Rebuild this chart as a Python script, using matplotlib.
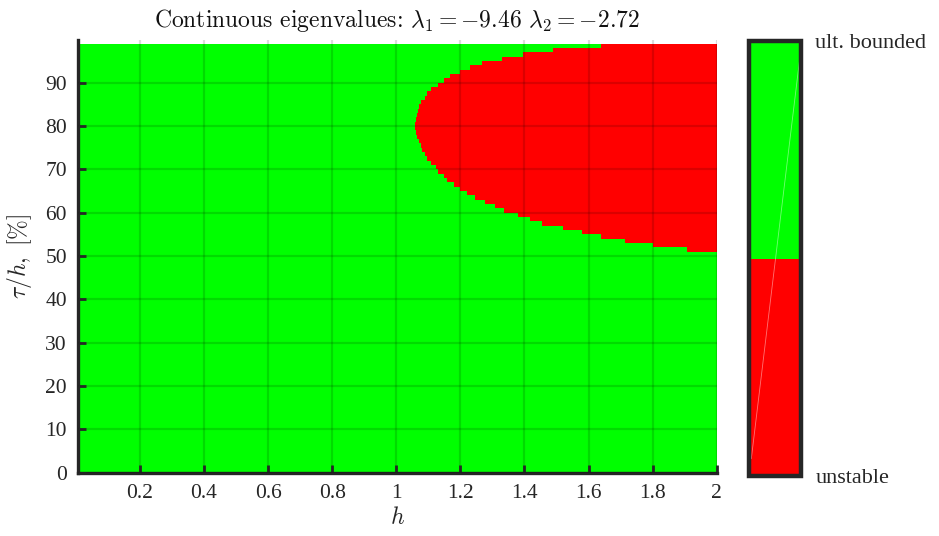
import numpy as np
import matplotlib
matplotlib.use("Agg")
import matplotlib.pyplot as plt
from matplotlib.colors import ListedColormap

plt.rcParams['mathtext.fontset'] = 'cm'
plt.rcParams['font.family'] = ['Liberation Serif', 'DejaVu Serif']
plt.rcParams['axes.unicode_minus'] = False

# ---- data ----
# tau/h rows (percent), each row spans [tau, tau+1]
tau_rows = list(range(0, 99))
# rows in which the system is unstable for h >= threshold
red_rows = [51, 52, 53, 54, 55, 56, 57, 58, 59, 60, 61, 62, 63, 64, 65, 66, 67, 68,
            69, 70, 71, 72, 73, 74, 75, 76, 77, 78, 79, 80, 81, 82, 83, 84, 85, 86,
            87, 88, 89, 90, 91, 92, 93, 94, 95, 96, 97, 98]
red_h_start = [1.907, 1.801, 1.714, 1.639, 1.579, 1.521, 1.454, 1.417, 1.379, 1.337,
               1.308, 1.277, 1.246, 1.220, 1.199, 1.181, 1.160, 1.150, 1.131, 1.126,
               1.110, 1.098, 1.092, 1.082, 1.077, 1.072, 1.066, 1.061, 1.058, 1.060,
               1.063, 1.067, 1.069, 1.073, 1.079, 1.089, 1.098, 1.110, 1.131, 1.149,
               1.169, 1.199, 1.230, 1.269, 1.329, 1.396, 1.488, 1.639]
h_min, h_max = 0.0066, 2.0
x_ticks = [0.2, 0.4, 0.6, 0.8, 1, 1.2, 1.4, 1.6, 1.8, 2]
x_tick_labels = ['0.2', '0.4', '0.6', '0.8', '1', '1.2', '1.4', '1.6', '1.8', '2']
y_ticks = [0, 10, 20, 30, 40, 50, 60, 70, 80, 90]
cbar_labels = ['unstable', 'ult. bounded']
title = r'Continuous eigenvalues: $\lambda_1 = -9.46$ $\lambda_2 = -2.72$'

# ---- build stability map ----
ncols = 640
h_edges = np.linspace(h_min, h_max, ncols + 1)
h_centers = 0.5 * (h_edges[:-1] + h_edges[1:])
tau_edges = np.array(tau_rows + [tau_rows[-1] + 1])
thr = {r: s for r, s in zip(red_rows, red_h_start)}
Z = np.ones((len(tau_rows), ncols))
for i, r in enumerate(tau_rows):
    if r in thr:
        Z[i, h_centers >= thr[r]] = 0

W, H = 939, 536
fig = plt.figure(figsize=(W / 100, H / 100), dpi=100)
ax = fig.add_axes([78 / W, 1 - 472.5 / H, (716.7 - 78) / W, (472.5 - 39.5) / H])
cmap = ListedColormap(['#ff0000', '#00ff00'])
mesh = ax.pcolormesh(h_edges, tau_edges, Z, cmap=cmap, vmin=0, vmax=1,
                     shading='flat', rasterized=True)
ax.set_xlim(h_min, h_max)
ax.set_ylim(0, 100)
ax.set_xticks(x_ticks)
ax.set_xticklabels(x_tick_labels)
ax.set_yticks(y_ticks)
ax.set_axisbelow(False)
ax.grid(True, color='k', alpha=0.14, linewidth=1.6)
for s in ['top', 'right']:
    ax.spines[s].set_visible(False)
for s in ['left', 'bottom']:
    ax.spines[s].set_linewidth(2.4)
    ax.spines[s].set_color('#262626')
ax.tick_params(direction='in', length=6, width=2, colors='#262626',
               labelsize=15.5, labelcolor='#262626', pad=8)
ax.set_xlabel(r'$h$', fontsize=17, color='#262626', labelpad=3)
ax.set_ylabel(r'$\tau/h,\ [\%]$', fontsize=17, color='#262626', labelpad=8)
ax.set_title(title, fontsize=17, color='#111111', pad=9, family='cmr10')

cax = fig.add_axes([748.7 / W, 1 - 476 / H, (801.3 - 748.7) / W, (476 - 41.3) / H])
cb = fig.colorbar(mesh, cax=cax, ticks=[0, 1])
cb.ax.set_yticklabels(cbar_labels)
cb.ax.tick_params(length=0, labelsize=16, labelcolor='#262626', pad=10)
cb.outline.set_linewidth(3.2)
cb.outline.set_edgecolor('#262626')
cax.plot([0.05, 0.98], [0.04, 0.97], transform=cax.transAxes, color='white',
         lw=0.6, alpha=0.45)

fig.savefig('out.png', dpi=100)
